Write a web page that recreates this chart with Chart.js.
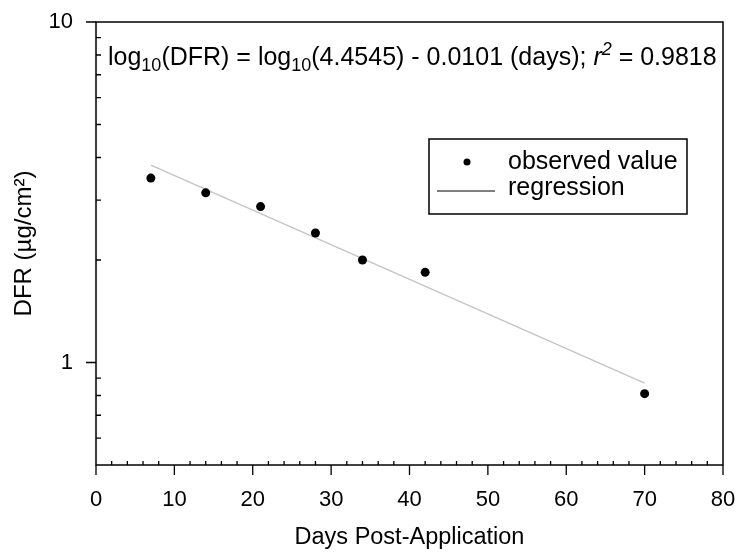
<!DOCTYPE html>
<html>
<head>
<meta charset="utf-8">
<script src="https://cdn.jsdelivr.net/npm/chart.js@4"></script>
<style>
  html, body { margin: 0; padding: 0; background: #fff; }
  #wrap { width: 739px; height: 554px; }
</style>
</head>
<body>
<div id="wrap"><canvas id="chart"></canvas></div>
<script>
const days = [7, 14, 21, 28, 34, 42, 70];
const dfr = [3.48, 3.15, 2.87, 2.40, 2.00, 1.84, 0.81];
const regressionDays = [7, 70];
const regressionDfr = [3.80, 0.87];

const xMajorTicks = [0, 10, 20, 30, 40, 50, 60, 70, 80];
const xMinorTicks = [2, 4, 6, 8, 12, 14, 16, 18, 22, 24, 26, 28, 32, 34, 36, 38, 42, 44, 46, 48, 52, 54, 56, 58, 62, 64, 66, 68, 72, 74, 76, 78];
const yMajorTicks = [1, 10];
const yMinorTicks = [0.6, 0.7, 0.8, 0.9, 2, 3, 4, 5, 6, 7, 8, 9];

const seriesLabels = ["observed value", "regression"];
const xTitle = "Days Post-Application";
const yTitle = "DFR (\u00b5g/cm\u00b2)";
// equation pieces: [text, style]
const equation = [
  ["log", ""], ["10", "sub"], ["(DFR) = log", ""], ["10", "sub"],
  ["(4.4545) - 0.0101 (days); ", ""], ["r", "italic"], ["2", "sup"], [" = 0.9818", ""],
];

const FONT = "'Liberation Sans', Arial, sans-serif";
const FS = 24;
const NOTE_FS = 25;
const TICK_FS = 22;

const frame = {
  id: "frame",
  afterDraw(chart) {
    const { ctx, chartArea: a, scales: { x, y } } = chart;
    ctx.save();
    ctx.strokeStyle = "#000";
    ctx.lineWidth = 1.5;
    ctx.strokeRect(a.left, a.top, a.right - a.left, a.bottom - a.top);
    ctx.lineWidth = 1.3;
    ctx.beginPath();
    xMajorTicks.forEach((v) => { const px = x.getPixelForValue(v); ctx.moveTo(px, a.bottom); ctx.lineTo(px, a.bottom + 10); });
    xMinorTicks.forEach((v) => { const px = x.getPixelForValue(v); ctx.moveTo(px, a.bottom); ctx.lineTo(px, a.bottom - 4); });
    yMajorTicks.forEach((v) => { const py = y.getPixelForValue(v); ctx.moveTo(a.left, py); ctx.lineTo(a.left - 10, py); });
    yMinorTicks.forEach((v) => { const py = y.getPixelForValue(v); ctx.moveTo(a.left, py); ctx.lineTo(a.left + 5, py); });
    ctx.stroke();

    // equation
    ctx.fillStyle = "#000";
    ctx.textBaseline = "alphabetic";
    let cx = a.left + 12;
    const base = a.top + 43;
    equation.forEach(([t, s]) => {
      let size = NOTE_FS, dy = 0, style = "";
      if (s === "sub") { size = 18; dy = 6; }
      if (s === "sup") { size = 18; dy = -10; style = "italic "; }
      if (s === "italic") style = "italic ";
      ctx.font = `${style}${size}px ${FONT}`;
      ctx.fillText(t, cx, base + dy);
      cx += ctx.measureText(t).width;
    });

    // legend
    const lx = 429, ly = 139, lw = 258, lh = 75;
    ctx.lineWidth = 1.5;
    ctx.strokeRect(lx, ly, lw, lh);
    ctx.fillStyle = "#000";
    ctx.beginPath();
    ctx.arc(lx + 38, ly + 23, 3.5, 0, Math.PI * 2);
    ctx.fill();
    ctx.lineWidth = 1;
    ctx.beginPath();
    ctx.moveTo(lx + 8, ly + 52);
    ctx.lineTo(lx + 66, ly + 52);
    ctx.stroke();
    ctx.font = `${NOTE_FS}px ${FONT}`;
    ctx.textBaseline = "middle";
    ctx.fillText(chart.data.datasets[0].label, lx + 79, ly + 23);
    ctx.fillText(chart.data.datasets[1].label, lx + 79, ly + 49);
    ctx.restore();
  },
};

new Chart(document.getElementById("chart"), {
  type: "scatter",
  data: {
    datasets: [
      {
        label: seriesLabels[0],
        data: days.map((d, i) => ({ x: d, y: dfr[i] })),
        backgroundColor: "#000",
        borderColor: "#000",
        pointRadius: 4.5,
        borderWidth: 0,
        showLine: false,
        order: 0,
      },
      {
        label: seriesLabels[1],
        data: regressionDays.map((d, i) => ({ x: d, y: regressionDfr[i] })),
        borderColor: "#c4c4c4",
        borderWidth: 1.3,
        pointRadius: 0,
        showLine: true,
        order: 1,
      },
    ],
  },
  plugins: [frame],
  options: {
    responsive: true,
    maintainAspectRatio: false,
    animation: false,
    layout: { padding: { top: 22, right: 16, left: 0, bottom: 0 } },
    plugins: { legend: { display: false }, tooltip: { enabled: false } },
    scales: {
      x: {
        type: "linear",
        min: 0,
        max: 80,
        grid: { display: false, drawTicks: false },
        border: { display: false },
        afterBuildTicks: (s) => { s.ticks = xMajorTicks.map((v) => ({ value: v })); },
        afterFit: (s) => { s.height = 89; s.paddingLeft = 0; s.paddingRight = 0; },
        ticks: { color: "#000", padding: 22, font: { family: FONT, size: TICK_FS }, maxRotation: 0, autoSkip: false },
        title: { display: true, text: xTitle, color: "#000", font: { family: FONT, size: 23.5 }, padding: { top: 0, bottom: 2 } },
      },
      y: {
        type: "logarithmic",
        min: 0.5,
        max: 10,
        grid: { display: false, drawTicks: false },
        border: { display: false },
        afterBuildTicks: (s) => { s.ticks = yMajorTicks.map((v) => ({ value: v })); },
        afterFit: (s) => { s.width = 96; s.paddingTop = 0; s.paddingBottom = 0; },
        ticks: { color: "#000", padding: 23, font: { family: FONT, size: TICK_FS }, callback: (v) => String(v) },
        title: { display: true, text: yTitle, color: "#000", font: { family: FONT, size: FS }, padding: { top: 10, bottom: 0 } },
      },
    },
  },
});
</script>
</body>
</html>
